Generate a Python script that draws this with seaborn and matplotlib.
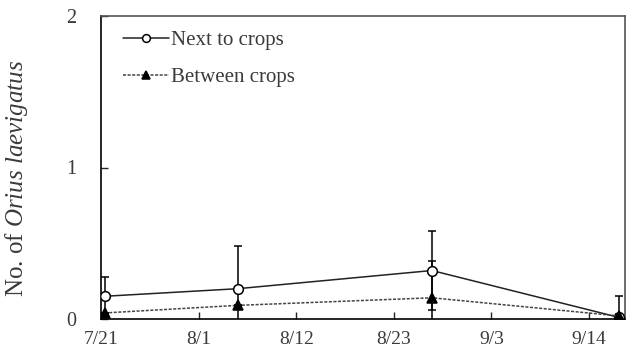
import numpy as np
import pandas as pd
import matplotlib
matplotlib.use("Agg")
import matplotlib.pyplot as plt
import seaborn as sns

# Sampling days, counted from 21 July
days = [0.4, 15.4, 37.3, 58.4]
next_mean = [0.15, 0.20, 0.32, 0.01]
next_err = [0.13, 0.28, 0.26, 0.02]
between_mean = [0.04, 0.09, 0.14, 0.02]
between_err = [0.00, 0.00, 0.24, 0.13]

tick_days = [0, 11, 22, 33, 44, 55]
tick_labels = ["7/21", "8/1", "8/12", "8/23", "9/3", "9/14"]
series_names = ["Next to crops", "Between crops"]

sns.set_theme(style="white")
plt.rcParams["font.family"] = ["Liberation Serif", "DejaVu Serif"]
plt.rcParams["mathtext.fontset"] = "custom"
plt.rcParams["mathtext.rm"] = "Liberation Serif"
plt.rcParams["mathtext.it"] = "Liberation Serif:italic"

df = pd.DataFrame({
    "day": days * 2,
    "count": next_mean + between_mean,
    "err": next_err + between_err,
    "site": [series_names[0]] * 4 + [series_names[1]] * 4,
})

fig = plt.figure(figsize=(6.36, 3.64), dpi=100)
ax = fig.add_axes([101 / 636, 1 - 319 / 364, (625 - 101) / 636, (319 - 16) / 364])

text_col = "#3a3a3a"

for name, ls, mk, mfc, ms, lc in [
    (series_names[0], "-", "o", "white", 7, "#222222"),
    (series_names[1], (0, (2, 1)), "^", "black", 6.5, "#444444"),
]:
    sub = df[df["site"] == name]
    ax.errorbar(sub["day"], sub["count"], yerr=sub["err"], fmt="none",
                ecolor="black", elinewidth=1.1, capsize=3, capthick=1.1, zorder=2)
    sns.lineplot(data=sub, x="day", y="count", ax=ax, color=lc, linestyle=ls,
                 linewidth=1.1, marker=mk, markersize=ms, markerfacecolor=mfc,
                 markeredgecolor="black", markeredgewidth=1.1, label=name,
                 zorder=3)

ax.set_xlim(0, 59.05)
ax.set_ylim(0, 2)
ax.set_xticks(tick_days)
ax.set_xticklabels(tick_labels)
ax.set_yticks([0, 1, 2])
ax.set_xlabel("")
ax.set_ylabel(r"No. of $\mathit{Orius\ laevigatus}$", fontsize=18, color=text_col)
ax.yaxis.set_label_coords(-0.135, 0.465)

ax.tick_params(axis="x", direction="in", length=5, width=1, pad=9,
               labelsize=14, labelcolor=text_col, bottom=True)
ax.tick_params(axis="y", direction="in", length=5, width=1, pad=18,
               labelsize=14.5, labelcolor=text_col, left=True)
for lbl in ax.get_xticklabels():
    lbl.set_horizontalalignment("center")
    lbl.set_x(lbl.get_position()[0])

for side in ["left", "bottom"]:
    ax.spines[side].set_color("black")
    ax.spines[side].set_linewidth(1.2)
for side in ["top", "right"]:
    ax.spines[side].set_color("#555555")
    ax.spines[side].set_linewidth(1.2)

leg = ax.legend(loc="upper left", frameon=False, fontsize=15, handlelength=2.2,
                handletextpad=0.1, labelspacing=0.85, borderaxespad=0.3,
                markerscale=0.8, bbox_to_anchor=(0.015, 1.0))
for t in leg.get_texts():
    t.set_color(text_col)

fig.savefig("out.png", dpi=100)
